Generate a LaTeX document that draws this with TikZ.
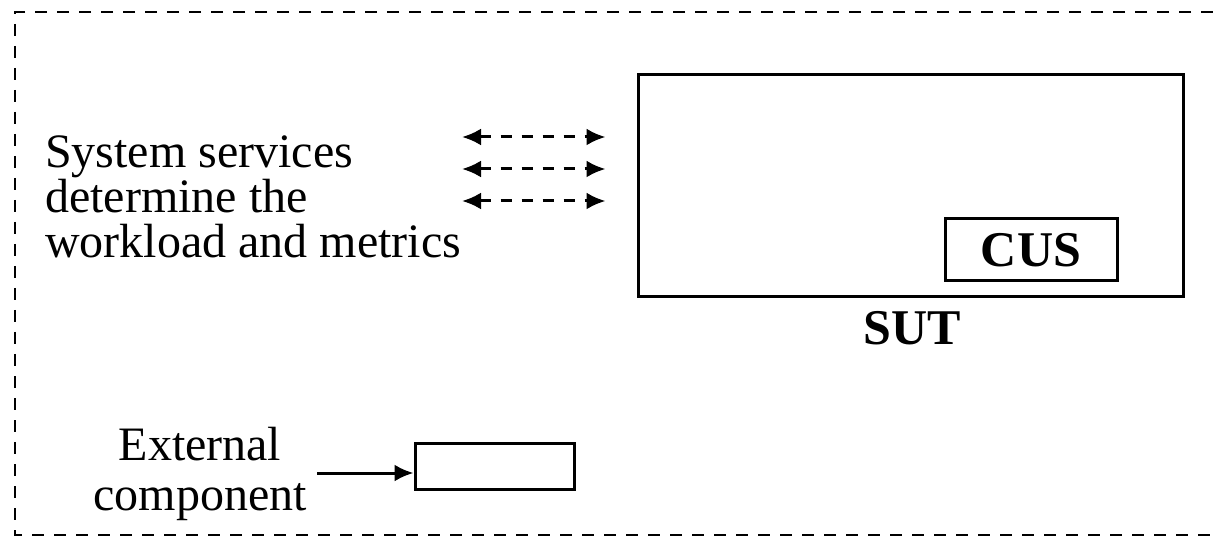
\documentclass[tikz,border=0pt]{standalone}
\usepackage{fontspec}
\setmainfont{Liberation Serif}
\usetikzlibrary{arrows.meta}

\begin{document}
\begin{tikzpicture}[x=1pt, y=-1pt,
    box/.style={draw, line width=3pt, inner sep=0pt},
    txt/.style={font=\fontsize{48}{45}\selectfont, inner sep=0pt},
    bold/.style={font=\fontsize{50}{50}\selectfont\bfseries, inner sep=0pt},
    dasharrow/.style={line width=3pt, dash pattern=on 11pt off 10pt,
        {Latex[length=19pt,width=17pt]}-{Latex[length=19pt,width=17pt]}},
    plainarrow/.style={line width=3pt, -{Latex[length=19pt,width=17pt]}}]

\useasboundingbox (0,0) rectangle (1213,537);

% outer frame, open to the right
\draw[line width=2.8pt, dash pattern=on 12pt off 10pt] (1213,12) -- (15,12) -- (15,535) -- (1213,535);

% system under test
\node[box, minimum width=545pt, minimum height=222pt] (sut) at (910.5,186) {};
\node[box, minimum width=172pt, minimum height=62pt, bold] (cus) at (1031,250) {CUS};
\node[bold] (sutlabel) at (912,328) {SUT};

% system services
\node[txt, align=left, anchor=west] (services) at (45,197) {System services\\determine the\\workload and metrics};
\foreach \y [count=\i] in {137,169,201} {
  \coordinate (svc\i) at (462,\y);
  \draw[dasharrow, shorten >=31pt] (svc\i) -- (svc\i -| sut.west);
}

% external component
\node[txt, align=center, font=\fontsize{48}{50}\selectfont] (extlabel) at (200,474) {External\\component};
\node[box, minimum width=159pt, minimum height=46pt] (extbox) at (494.5,466) {};
\coordinate (extstart) at (317,473);
\draw[plainarrow] (extstart) -- (extstart -| extbox.west);

\end{tikzpicture}
\end{document}
